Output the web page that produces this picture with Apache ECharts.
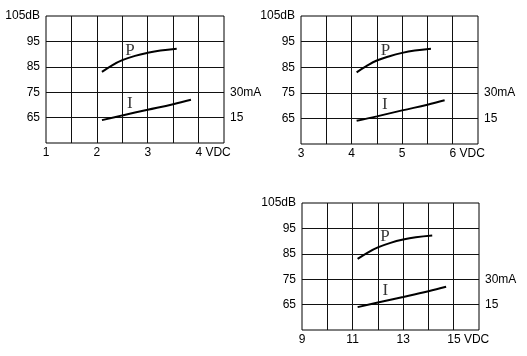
<!DOCTYPE html>
<html><head><meta charset="utf-8">
<script src="https://cdn.jsdelivr.net/npm/echarts@6/dist/echarts.min.js"></script>
<style>html,body{margin:0;padding:0;background:#fff}#c{width:527px;height:356px}</style>
</head><body><div id="c"></div><script>
// ---- Panel 1 (top-left), 1..4.5 VDC ----
const p1PowerX = [2.1, 2.3, 2.5, 2.75, 3.0, 3.25, 3.57];
const p1PowerDb = [83, 85.6, 87.6, 89.3, 90.5, 91.4, 92.1];
const p1CurrentX = [2.1, 2.5, 3.0, 3.5, 3.85];
const p1CurrentMa = [13.5, 16.3, 19.6, 22.9, 25.5];
const p1XTicks = [1, 2, 3, 4];
const p1XRange = [1, 4.5, 0.5];
const p1LabelP = [2.65, 91.5];
const p1LabelI = [2.65, 70.4];

// ---- Panel 2 (top-right), 3..6.5 VDC ----
const p2PowerX = [4.1, 4.3, 4.5, 4.75, 5.0, 5.25, 5.57];
const p2PowerDb = [83, 85.5, 87.6, 89.3, 90.6, 91.5, 92.2];
const p2CurrentX = [4.1, 4.5, 5.0, 5.5, 5.84];
const p2CurrentMa = [13.6, 16.2, 19.7, 23.0, 25.6];
const p2XTicks = [3, 4, 5, 6];
const p2XRange = [3, 6.5, 0.5];
const p2LabelP = [4.67, 91.6];
const p2LabelI = [4.66, 70.5];

// ---- Panel 3 (bottom-right), 9..16 VDC ----
const p3PowerX = [11.2, 11.6, 12, 12.5, 13, 13.5, 14.15];
const p3PowerDb = [83, 85.5, 87.5, 89.3, 90.6, 91.5, 92.2];
const p3CurrentX = [11.2, 12, 13, 14, 14.7];
const p3CurrentMa = [13.5, 16.2, 19.5, 22.9, 25.5];
const p3XTicks = [9, 11, 13, 15];
const p3XRange = [9, 16, 1];
const p3LabelP = [12.28, 91.7];
const p3LabelI = [12.3, 70.5];

// ---- shared axes ----
const dbRange = [55, 105, 10];
const dbTickLabels = {65: '65', 75: '75', 85: '85', 95: '95', 105: '105dB'};
const maRange = [0, 75, 15];
const maTickLabels = {15: '15', 30: '30mA'};
const xUnit = 'VDC';

const panels = [
  {px: p1PowerX, pdb: p1PowerDb, cx: p1CurrentX, cma: p1CurrentMa, ticks: p1XTicks, range: p1XRange, lp: p1LabelP, li: p1LabelI},
  {px: p2PowerX, pdb: p2PowerDb, cx: p2CurrentX, cma: p2CurrentMa, ticks: p2XTicks, range: p2XRange, lp: p2LabelP, li: p2LabelI},
  {px: p3PowerX, pdb: p3PowerDb, cx: p3CurrentX, cma: p3CurrentMa, ticks: p3XTicks, range: p3XRange, lp: p3LabelP, li: p3LabelI}
];

const gridBoxes = [
  {left: 46, top: 16, width: 178, height: 127},
  {left: 301, top: 16, width: 177, height: 128},
  {left: 302, top: 203, width: 177, height: 127}
];

const FONT = "'Liberation Sans', Arial, sans-serif";
const SERIF = "'Liberation Serif', 'Times New Roman', serif";
const gridLine = {show: true, lineStyle: {color: '#111', width: 1}, showMinLine: false, showMaxLine: false};

const grid = [], xAxis = [], yAxis = [], series = [];
panels.forEach((p, i) => {
  grid.push(Object.assign({show: true, borderColor: '#000', borderWidth: 1, backgroundColor: 'transparent'}, gridBoxes[i]));
  const last = p.ticks[p.ticks.length - 1];
  xAxis.push({
    type: 'value', gridIndex: i, min: p.range[0], max: p.range[1], interval: p.range[2],
    axisLine: {show: false}, axisTick: {show: false}, splitLine: gridLine,
    axisLabel: {
      color: '#000', fontFamily: FONT, fontSize: 12, margin: 4,
      showMinLabel: true, showMaxLabel: true,
      formatter: v => p.ticks.includes(v) ? (v === last ? '{pad|}' + v + ' ' + xUnit : String(v)) : '',
      rich: {pad: {width: 29}}
    }
  });
  yAxis.push({
    type: 'value', gridIndex: i, min: dbRange[0], max: dbRange[1], interval: dbRange[2], position: 'left',
    axisLine: {show: false}, axisTick: {show: false}, splitLine: gridLine,
    axisLabel: {color: '#000', fontFamily: FONT, fontSize: 12, margin: 6, formatter: v => dbTickLabels[v] || ''}
  });
  yAxis.push({
    type: 'value', gridIndex: i, min: maRange[0], max: maRange[1], interval: maRange[2], position: 'right',
    axisLine: {show: false}, axisTick: {show: false}, splitLine: {show: false},
    axisLabel: {color: '#000', fontFamily: FONT, fontSize: 12, margin: 6, formatter: v => maTickLabels[v] || ''}
  });
  const lineCommon = {type: 'line', smooth: 0.4, symbol: 'none', silent: true, xAxisIndex: i,
    lineStyle: {color: '#000', width: 2}};
  series.push(Object.assign({}, lineCommon, {name: 'P' + i, yAxisIndex: i * 2,
    data: p.px.map((x, k) => [x, p.pdb[k]])}));
  series.push(Object.assign({}, lineCommon, {name: 'I' + i, yAxisIndex: i * 2 + 1,
    data: p.cx.map((x, k) => [x, p.cma[k]])}));
  series.push({
    type: 'scatter', xAxisIndex: i, yAxisIndex: i * 2, symbolSize: 0, silent: true,
    data: [[p.lp[0], p.lp[1], 'P'], [p.li[0], p.li[1], 'I']],
    label: {show: true, position: 'inside', formatter: q => q.value[2], color: '#000',
      fontFamily: SERIF, fontSize: 17}
  });
});

const chart = echarts.init(document.getElementById('c'), null, {renderer: 'canvas'});
chart.setOption({animation: false, backgroundColor: '#fff', grid, xAxis, yAxis, series});
</script></body></html>
